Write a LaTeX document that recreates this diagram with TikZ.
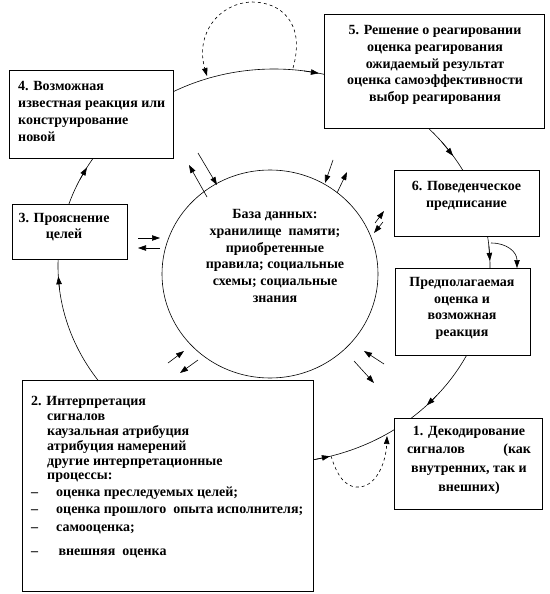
\documentclass[tikz,border=0pt]{standalone}
\usepackage{fontspec}
\setmainfont{Liberation Serif}
\usetikzlibrary{arrows.meta,calc}
\begin{document}
\begin{tikzpicture}[x=1pt,y=-1pt,
  box/.style={draw,line width=0.8pt,fill=white,inner sep=0pt},
  txt/.style={font=\fontsize{14}{16.7}\selectfont\bfseries,inner sep=0pt,align=center},
  cyc/.style={line width=0.6pt},
  arr/.style={line width=0.6pt,-{Triangle[length=8pt,width=5.5pt]}},
  dsh/.style={dashed,line width=0.6pt,-{Triangle[length=8pt,width=5.5pt]}}]
\useasboundingbox (0,0) rectangle (549,594);
% outer cycle and data base
\coordinate (oc) at (274,266);
\draw[cyc] (oc) ellipse [x radius=216pt, y radius=197pt];
\draw[cyc] (270,274) ellipse [x radius=108pt, y radius=104pt];
% boxes
\node[box,minimum width=164pt,minimum height=88pt] (b4) at (91,114) {};
\node[box,minimum width=220pt,minimum height=114pt] (b5) at (434,71) {};
\node[box,minimum width=145pt,minimum height=66pt] (b6) at (466.5,203) {};
\node[box,minimum width=135pt,minimum height=87pt] (b7) at (462.5,311.5) {};
\node[box,minimum width=115pt,minimum height=55pt] (b3) at (69.5,231.5) {};
\node[box,minimum width=291pt,minimum height=211pt] (b2) at (167.5,485.5) {};
\node[box,minimum width=148pt,minimum height=91pt] (b1) at (468,463.5) {};
% texts
\node[txt,align=left,anchor=west] (t4) at (18,111.5) {4. Возможная\\известная реакция или\\конструирование\\новой};
\node[txt] (t5) at (435,65) {5. Решение о реагировании\\оценка реагирования\\ожидаемый результат\\оценка самоэффективности\\выбор реагирования};
\node[txt] (t6) at (466.5,196) {6. Поведенческое\\предписание};
\node[txt] (t7) at (462,308.5) {Предполагаемая\\оценка и\\возможная\\реакция};
\node[txt,font=\fontsize{14}{18.6}\selectfont\bfseries] (t1) at (469,460) {1. Декодирование\\\makebox[124pt]{сигналов\hfill(как}\\внутренних, так и\\внешних)};
\node[txt] (t3) at (64,227) {3. Прояснение\\целей};
\node[txt] (tc) at (275,256) {База данных:\\хранилище\ \ памяти;\\приобретенные\\правила; социальные\\схемы; социальные\\знания};
\node[txt,align=left,anchor=west,font=\fontsize{14}{14.8}\selectfont\bfseries] (t2) at (31,477)
 {2. Интерпретация\\
  \hspace*{16pt}сигналов\\
  \hspace*{16pt}каузальная атрибуция\\
  \hspace*{16pt}атрибуция намерений\\
  \hspace*{16pt}другие интерпретационные\\
  \hspace*{16pt}процессы:\\[2pt]
  \makebox[25pt][l]{–}оценка преследуемых целей;\\[2pt]
  \makebox[25pt][l]{–}оценка прошлого\ \ опыта исполнителя;\\[3pt]
  \makebox[25pt][l]{–}самооценка;\\[9pt]
  \makebox[25pt][l]{–}\,внешняя\ \ оценка};
% arrowheads on the outer cycle
\draw[arr] ($(oc)+(-39:216 and 197)$) -- ($(oc)+(-34:216 and 197)$);
\draw[arr] ($(oc)+(41:216 and 197)$) -- ($(oc)+(45:216 and 197)$);
\draw[arr] ($(oc)+(79:216 and 197)$) -- ($(oc)+(75:216 and 197)$);
\draw[arr] ($(oc)+(173:216 and 197)$) -- ($(oc)+(177:216 and 197)$);
\draw[arr] ($(oc)+(206:216 and 197)$) -- ($(oc)+(210:216 and 197)$);
\draw[arr] ($(oc)+(278:216 and 197)$) -- ($(oc)+(282:216 and 197)$);
\draw[arr] ($(oc)+(354:216 and 197)$) -- ($(oc)+(358.5:216 and 197)$);
% 6 -> prediction curved arrow
\coordinate (c6) at (491,243);
\coordinate (c7) at (517,268);
\draw[arr] (c6) .. controls (507,243) and (517,252) .. (c7);
% dashed loops
\coordinate (d1) at (293,68);
\coordinate (d2) at (207,76);
\draw[dsh] (d1) .. controls (306,22) and (280,2) .. (252,2) .. controls (218,3) and (195,35) .. (d2);
\coordinate (d3) at (331,456);
\coordinate (d4) at (387,436);
\draw[dsh] (d3) .. controls (339,482) and (349,488) .. (360,487) .. controls (377,485) and (386,462) .. (d4);
% exchanges with the data base
\draw[arr] (198,153) -- (217,185);
\draw[arr] (207,197) -- (189,165);
\draw[arr] (138,238) -- (160,238);
\draw[arr] (160,248) -- (138,248);
\draw[arr] (333,160) -- (325,183);
\draw[arr] (337,193) -- (347,172);
\draw[arr] (375,223) -- (384,211);
\draw[arr] (383,222) -- (374,233);
\draw[arr] (168,363) -- (184,351);
\draw[arr] (198,360) -- (180,373);
\draw[arr] (384,364) -- (364,351);
\draw[arr] (354,361) -- (374,383);
\end{tikzpicture}
\end{document}
